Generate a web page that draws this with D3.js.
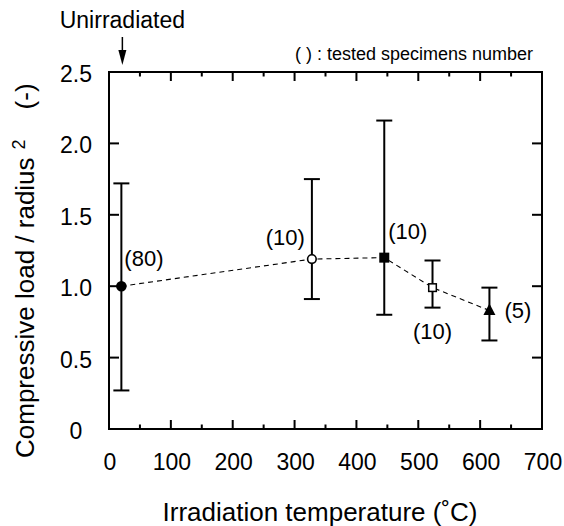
<!DOCTYPE html>
<html>
<head>
<meta charset="utf-8">
<script src="https://cdn.jsdelivr.net/npm/d3@7"></script>
<style>
  html, body { margin: 0; padding: 0; background: #fff; }
  svg { display: block; font-family: "Liberation Sans", Arial, Helvetica, sans-serif; }
</style>
</head>
<body>
<div id="chart"></div>
<script>
// values
const temperatures = [20, 328, 445, 523, 615];
const meanLoad = [1.0, 1.19, 1.2, 0.99, 0.83];
const upperLoad = [1.72, 1.75, 2.16, 1.18, 0.99];
const lowerLoad = [0.27, 0.91, 0.80, 0.85, 0.62];
const specimenCounts = [80, 10, 10, 10, 5];
const markerTypes = ["filledCircle", "openCircle", "filledSquare", "openSquare", "filledTriangle"];

const xTicks = [0, 100, 200, 300, 400, 500, 600, 700];
const xMinorTicks = [50, 150, 250, 350, 450, 550, 650];
const yTicks = [0, 0.5, 1.0, 1.5, 2.0, 2.5];
const yTickLabels = ["0", "0.5", "1.0", "1.5", "2.0", "2.5"];

class LoadChart {
    size = { width: 564, height: 526 };
    plot = { left: 109, right: 542, top: 72, bottom: 429 };

    constructor(container) {
        this.svg = d3.select(container).append("svg")
            .attr("width", this.size.width)
            .attr("height", this.size.height);
        this.x = d3.scaleLinear().domain([0, 700]).range([this.plot.left, this.plot.right]);
        this.y = d3.scaleLinear().domain([0, 2.5]).range([this.plot.bottom, this.plot.top]);
    }

    drawFrame() {
        const { left, right, top, bottom } = this.plot;
        const g = this.svg.append("g").attr("class", "frame");

        g.append("rect")
            .attr("x", left).attr("y", top)
            .attr("width", right - left).attr("height", bottom - top)
            .attr("fill", "none").attr("stroke", "#000").attr("stroke-width", 2);

        // x ticks, bottom and top, pointing inward
        const xt = [...xTicks.slice(1, -1).map(v => ({ v, len: 9 })), ...xMinorTicks.map(v => ({ v, len: 4.5 }))];
        xt.forEach(t => {
            g.append("line")
                .attr("x1", this.x(t.v)).attr("x2", this.x(t.v))
                .attr("y1", bottom).attr("y2", bottom - t.len)
                .attr("stroke", "#000").attr("stroke-width", 2);
            g.append("line")
                .attr("x1", this.x(t.v)).attr("x2", this.x(t.v))
                .attr("y1", top).attr("y2", top + t.len)
                .attr("stroke", "#000").attr("stroke-width", 2);
        });

        // y ticks, left and right
        yTicks.slice(1, -1).forEach(v => {
            g.append("line")
                .attr("x1", left).attr("x2", left + 10)
                .attr("y1", this.y(v)).attr("y2", this.y(v))
                .attr("stroke", "#000").attr("stroke-width", 2);
            g.append("line")
                .attr("x1", right).attr("x2", right - 10)
                .attr("y1", this.y(v)).attr("y2", this.y(v))
                .attr("stroke", "#000").attr("stroke-width", 2);
        });

        // tick labels
        g.selectAll("text.xlab")
            .data(xTicks)
            .enter().append("text")
            .attr("class", "xlab")
            .attr("x", d => this.x(d) + 1)
            .attr("y", 470)
            .attr("text-anchor", "middle")
            .attr("font-size", "23px")
            .text(d => d);

        g.selectAll("text.ylab")
            .data(yTicks)
            .enter().append("text")
            .attr("class", "ylab")
            .attr("x", 76)
            .attr("y", d => this.y(d) + 10)
            .attr("text-anchor", "middle")
            .attr("font-size", "23px")
            .text((d, i) => yTickLabels[i]);

        // axis titles
        this.svg.append("text")
            .attr("x", 320).attr("y", 521)
            .attr("text-anchor", "middle")
            .attr("font-size", "26px")
            .text("Irradiation temperature (˚C)");

        const yt = this.svg.append("text")
            .attr("transform", "translate(34,458) rotate(-90)")
            .attr("font-size", "26px");
        yt.append("tspan").text("Compressive load / radius");
        yt.append("tspan").attr("dx", 8).attr("dy", -9).attr("font-size", "18px").text("2");
        yt.append("tspan").attr("dx", 30).attr("dy", 9).text("(-)");

        // annotations
        this.svg.append("text")
            .attr("x", 295).attr("y", 60)
            .attr("font-size", "18px")
            .text("( ) : tested specimens number");

        const ax = this.x(temperatures[0]) + 1;
        this.svg.append("text")
            .attr("x", ax).attr("y", 28)
            .attr("text-anchor", "middle")
            .attr("font-size", "23px")
            .text("Unirradiated");
        this.svg.append("line")
            .attr("x1", ax).attr("x2", ax).attr("y1", 37).attr("y2", 52)
            .attr("stroke", "#000").attr("stroke-width", 1.5);
        this.svg.append("path")
            .attr("d", `M${ax - 4},50 L${ax + 4},50 L${ax},65 Z`)
            .attr("fill", "#000");
    }

    drawData() {
        const data = temperatures.map((t, i) => ({
            t, mean: meanLoad[i], hi: upperLoad[i], lo: lowerLoad[i],
            n: specimenCounts[i], marker: markerTypes[i]
        }));

        const line = d3.line().x(d => this.x(d.t)).y(d => this.y(d.mean));
        this.svg.append("path")
            .datum(data)
            .attr("d", line)
            .attr("fill", "none")
            .attr("stroke", "#000")
            .attr("stroke-width", 1.1)
            .attr("stroke-dasharray", "5,4");

        const bars = this.svg.append("g").attr("class", "errorbars");
        data.forEach(d => {
            const cx = this.x(d.t);
            bars.append("line")
                .attr("x1", cx).attr("x2", cx)
                .attr("y1", this.y(d.hi)).attr("y2", this.y(d.lo))
                .attr("stroke", "#000").attr("stroke-width", 2);
            [d.hi, d.lo].forEach(v => {
                bars.append("line")
                    .attr("x1", cx - 8).attr("x2", cx + 8)
                    .attr("y1", this.y(v)).attr("y2", this.y(v))
                    .attr("stroke", "#000").attr("stroke-width", 2);
            });
        });

        const marks = this.svg.append("g").attr("class", "markers");
        data.forEach(d => {
            const cx = this.x(d.t), cy = this.y(d.mean);
            if (d.marker === "filledCircle") {
                marks.append("circle").attr("cx", cx).attr("cy", cy).attr("r", 5.3).attr("fill", "#000");
            } else if (d.marker === "openCircle") {
                marks.append("circle").attr("cx", cx).attr("cy", cy).attr("r", 4.3)
                    .attr("fill", "#fff").attr("stroke", "#000").attr("stroke-width", 1.6);
            } else if (d.marker === "filledSquare") {
                marks.append("rect").attr("x", cx - 5).attr("y", cy - 5).attr("width", 10).attr("height", 10)
                    .attr("fill", "#000");
            } else if (d.marker === "openSquare") {
                marks.append("rect").attr("x", cx - 3.8).attr("y", cy - 3.8).attr("width", 7.6).attr("height", 7.6)
                    .attr("fill", "#fff").attr("stroke", "#000").attr("stroke-width", 1.5);
            } else {
                marks.append("path")
                    .attr("d", `M${cx},${cy - 7} L${cx + 6},${cy + 4.5} L${cx - 6},${cy + 4.5} Z`)
                    .attr("fill", "#000");
            }
        });

        // specimen count labels, placed around each point
        const offsets = [
            { dx: 3, dy: -20, anchor: "start" },
            { dx: -7, dy: -14, anchor: "end" },
            { dx: 4, dy: -19, anchor: "start" },
            { dx: 0, dy: 51, anchor: "middle" },
            { dx: 15, dy: 8, anchor: "start" }
        ];
        this.svg.append("g").attr("class", "counts")
            .selectAll("text")
            .data(data)
            .enter().append("text")
            .attr("x", (d, i) => this.x(d.t) + offsets[i].dx)
            .attr("y", (d, i) => this.y(d.mean) + offsets[i].dy)
            .attr("text-anchor", (d, i) => offsets[i].anchor)
            .attr("font-size", "22px")
            .text(d => `(${d.n})`);
    }
}

const chart = new LoadChart("#chart");
chart.drawFrame();
chart.drawData();
</script>
</body>
</html>
